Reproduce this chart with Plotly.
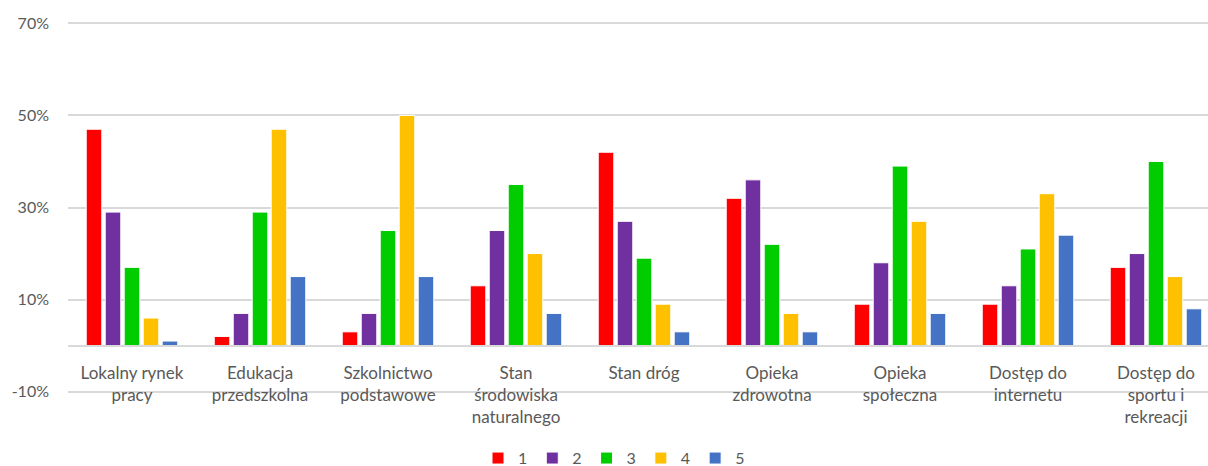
import plotly.graph_objects as go

categories = [
    "Lokalny rynek<br>pracy",
    "Edukacja<br>przedszkolna",
    "Szkolnictwo<br>podstawowe",
    "Stan<br>środowiska<br>naturalnego",
    "Stan dróg",
    "Opieka<br>zdrowotna",
    "Opieka<br>społeczna",
    "Dostęp do<br>internetu",
    "Dostęp do<br>sportu i<br>rekreacji",
]

s1 = [47, 2, 3, 13, 42, 32, 9, 9, 17]
s2 = [29, 7, 7, 25, 27, 36, 18, 13, 20]
s3 = [17, 29, 25, 35, 19, 22, 39, 21, 40]
s4 = [6, 47, 50, 20, 9, 7, 27, 33, 15]
s5 = [1, 15, 15, 7, 3, 3, 7, 24, 8]

series_names = ["1", "2", "3", "4", "5"]
series_values = [s1, s2, s3, s4, s5]
colors = ["#FF0000", "#7030A0", "#00CC00", "#FFC000", "#4472C4"]

y_ticks = [-10, 10, 30, 50, 70]

FONT = "Lato"
GRAY = "#595959"

fig = go.Figure()
for name, vals, col in zip(series_names, series_values, colors):
    fig.add_trace(go.Bar(
        x=categories, y=vals, name=name,
        marker=dict(color=col, line=dict(color="white", width=1)),
    ))

y_lo, y_hi = -10.5, 70.5
fig.update_layout(
    width=1208, height=466,
    margin=dict(l=68, r=0, t=21, b=72, autoexpand=False),
    paper_bgcolor="white", plot_bgcolor="white",
    barmode="group", bargap=0.258, bargroupgap=0.18,
    font=dict(family=FONT, size=16, color=GRAY),
    showlegend=True,
    legend=dict(orientation="h", xref="paper", yref="paper",
                x=(614 - 68) / 1140, xanchor="center", y=-0.172, yanchor="middle",
                font=dict(size=16, color=GRAY), itemwidth=30,
                tracegroupgap=0, traceorder="normal"),
    xaxis=dict(
        anchor="free", position=(0 - y_lo) / (y_hi - y_lo),
        range=[-0.5, -0.5 + 1140 / 128],
        showline=True, linecolor="#D9D9D9", linewidth=1.5,
        ticks="", showgrid=False, tickangle=0, ticklabelstandoff=12,
        tickfont=dict(size=17, color=GRAY),
    ),
    yaxis=dict(
        range=[y_lo, y_hi], tickvals=y_ticks, ticktext=[f"{v}%" for v in y_ticks],
        showgrid=True, gridcolor="#D9D9D9", gridwidth=1.5,
        zeroline=True, zerolinecolor="#D9D9D9", zerolinewidth=1.5,
        ticks="", ticklabelstandoff=18,
        tickfont=dict(size=16, color=GRAY),
    ),
)

fig.write_html("out.html", config={"displayModeBar": False},
               post_script="document.body.style.margin='0';")
